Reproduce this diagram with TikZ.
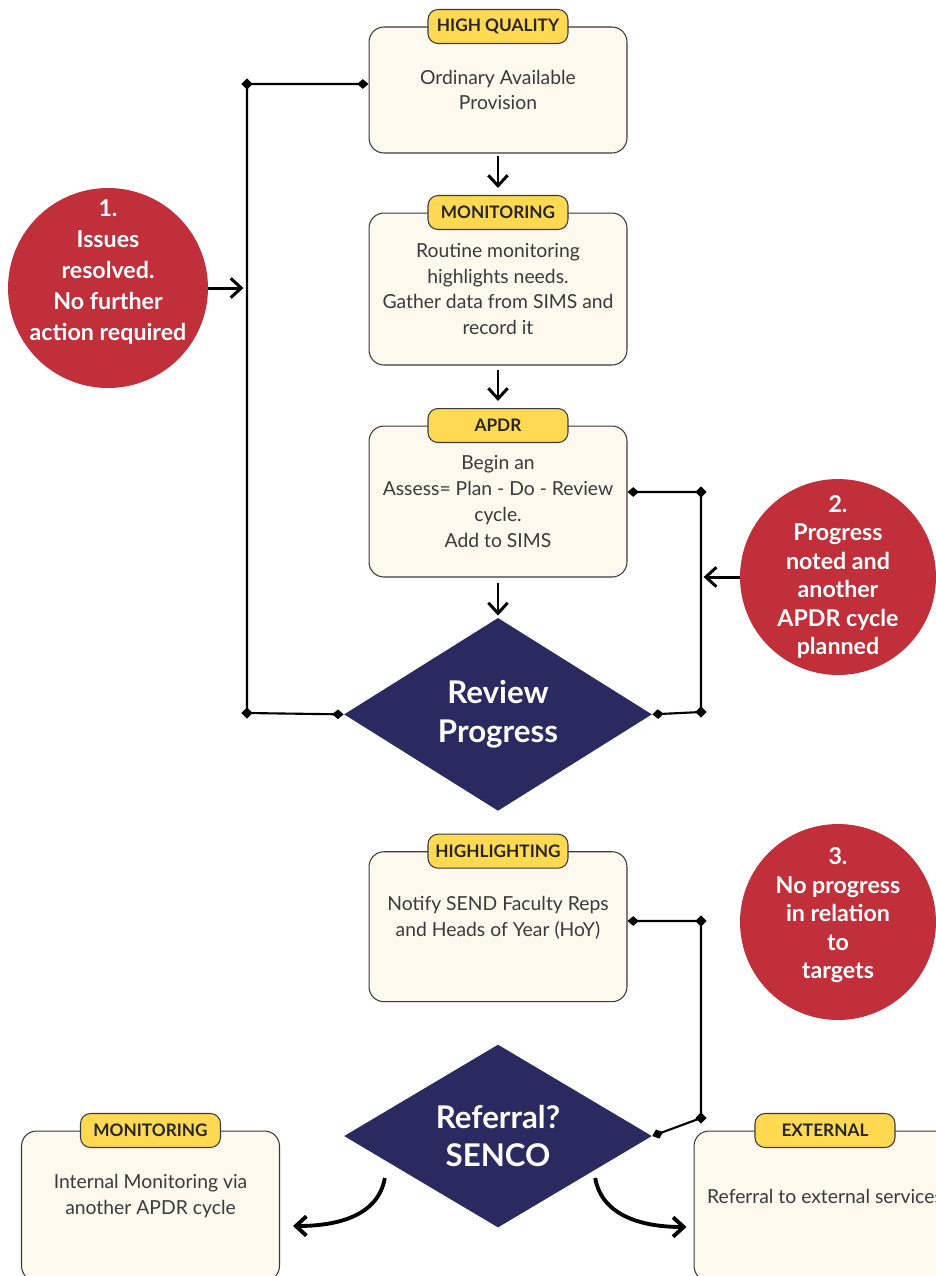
\documentclass[tikz,border=0pt]{standalone}
\usepackage{fontspec}
\setmainfont{Lato}
\usetikzlibrary{positioning}
\usetikzlibrary{calc}
\usetikzlibrary{shapes.geometric}
\usetikzlibrary{arrows.meta}
\definecolor{boxfill}{HTML}{FDF9EE}
\definecolor{tagfill}{HTML}{FFD952}
\definecolor{redfill}{HTML}{C1303A}
\definecolor{navy}{HTML}{2A2A60}
\definecolor{ink}{HTML}{3A3A3A}
\newcommand{\lift}[1]{\rule[-#1]{0pt}{#1}}
\tikzset{%
  box/.style = {rectangle,draw=ink,fill=boxfill,rounded corners=0.3cm,
        line width=0.6pt,minimum width=5.16cm,text=ink,align=center,
        font=\fontsize{11}{14.7}\selectfont},
  tagbox/.style = {rectangle,draw=ink,fill=tagfill,rounded corners=0.2cm,
        line width=0.6pt,minimum width=2.8cm,minimum height=0.68cm,
        inner sep=0pt,text=black!85,font=\bfseries\fontsize{9.8}{10}\selectfont},
  bubble/.style = {circle,fill=redfill,text=white,align=center,inner sep=-8pt,
        minimum size=3.92cm,font=\bfseries\fontsize{13.2}{16.2}\selectfont},
  decision/.style = {diamond,fill=navy,text=white,align=center,inner sep=0pt,
        shape aspect=1.6,minimum width=6.16cm,minimum height=3.86cm,
        font=\bfseries\fontsize{17.8}{22}\selectfont},
  flow/.style = {-{Straight Barb[length=6pt,width=11pt]},line width=1.7pt},
  loopline/.style = {{Diamond[length=6.5pt,width=5.5pt]}-{Diamond[length=6.5pt,width=5.5pt]},
        line width=1.2pt},
  joint/.style = {diamond,fill=black,inner sep=0pt,minimum size=6.5pt}
}
\begin{document}
\begin{tikzpicture}[x=0.02cm,y=-0.02cm]
    \useasboundingbox (0,0) rectangle (936,1276);
    \clip (0,0) rectangle (936,1276);
    % main column
    \node[box,minimum height=2.52cm] (oap) at (498,90) {Ordinary Available\\Provision};
    \node[box,minimum height=3.04cm,below=1.18cm of oap] (routine)
        {Routine monitoring\\highlights needs.\\Gather data from SIMS and\\record it};
    \node[box,minimum height=3.02cm,below=1.2cm of routine] (cycle)
        {Begin an\\Assess= Plan - Do - Review\\cycle.\\Add to SIMS};
    \node[decision,below=0.8cm of cycle] (review) {Review\\Progress};
    \node[box,minimum height=3cm,below=0.8cm of review] (notify)
        {Notify SEND Faculty Reps\\and Heads of Year (HoY)\lift{12pt}};
    \node[decision,minimum height=3.66cm,below=0.84cm of notify] (referral) {Referral?\\SENCO};
    \node[box,minimum height=3cm] (internal) at (150.5,1206)
        {Internal Monitoring via\\another APDR cycle\lift{13pt}};
    \node[box,minimum width=5.24cm,minimum height=3cm] (external) at (825,1206)
        {Referral to external services\lift{11pt}};
    % tags
    \node[tagbox] (t1) at (oap.north) {HIGH QUALITY};
    \node[tagbox] (t2) at (routine.north) {MONITORING};
    \node[tagbox] (t3) at (cycle.north) {APDR};
    \node[tagbox] (t4) at (notify.north) {HIGHLIGHTING};
    \node[tagbox] (t5) at (internal.north) {MONITORING};
    \node[tagbox] (t6) at (external.north) {EXTERNAL};
    % outcomes
    \node[bubble,minimum size=4cm,inner sep=-12pt,
        font=\bfseries\fontsize{13.2}{17.6}\selectfont] (resolved) at (108,288)
        {1.\\Issues\\resolved.\\No further\\action required\lift{20pt}};
    \node[bubble] (noted) at (838,577)
        {2.\\Progress\\noted and\\another\\APDR cycle\\planned};
    \node[bubble] (noprog) at (838,922)
        {3.\\No progress\\in relation\\to\\targets\lift{10pt}};
    % joints
    \node[joint] (la) at (247,713) {};
    \node[joint] (lb) at (247,84) {};
    \node[joint] (ra) at (701,712) {};
    \node[joint] (rb) at (701,492) {};
    \node[joint] (sa) at (701,921) {};
    \node[joint] (sb) at (701,1118) {};
    % arrows
    \draw[flow,shorten <=0.04cm,shorten >=0.14cm] (oap.south) -- (t2.north);
    \draw[flow,shorten <=0.08cm,shorten >=0.14cm] (routine.south) -- (t3.north);
    \draw[flow,shorten <=0.1cm,shorten >=0.04cm] (cycle.south) -- (review.north);
    \draw[flow,shorten >=2pt] (resolved.east) -- (resolved.east -| la.center);
    \draw[flow,shorten >=1.5pt] (noted.west) -- (noted.west -| ra.center);
    \draw[flow,line width=2.2pt] ($(referral.south west)+(-36,-4)$)
        to[out=-100,in=0] ($(internal.east)+(13,20)$);
    \draw[flow,line width=2.2pt] ($(referral.south east)+(20,-4)$)
        to[out=-80,in=180] ($(external.west)+(-7,21)$);
    % loops
    \draw[loopline] (review.west) -- (la.center) -- (lb.center) -- (lb -| oap.west);
    \draw[loopline] (review.east) -- (ra.center) -- (rb.center) -- (rb -| cycle.east);
    \draw[loopline] (sa -| notify.east) -- (sa.center) -- (sb.center) -- (referral.east);
\end{tikzpicture}
\end{document}
